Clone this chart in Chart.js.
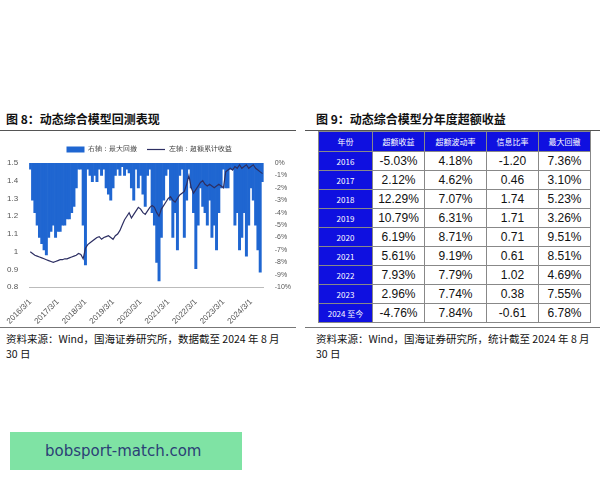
<!DOCTYPE html>
<html><head><meta charset="utf-8">
<script src="https://cdn.jsdelivr.net/npm/chart.js@4"></script>
<style>
body{margin:0;width:600px;height:480px;background:#fff;font-family:"Noto Sans CJK SC",sans-serif;position:relative;overflow:hidden}
.title{position:absolute;top:110px;font-size:12px;font-weight:bold;color:#111}
.rule{position:absolute;top:130px;height:1px;background:#555}
.src{position:absolute;top:331px;font-size:10.5px;line-height:15px;color:#111;width:290px}
.sep{position:absolute;top:127px;height:1px;background:#777}
#wrap{position:absolute;left:0;top:136px;width:296px;height:192px}
table{position:absolute;left:318px;top:131px;border-collapse:collapse;table-layout:fixed;font-family:"Liberation Sans",Arial,sans-serif;font-size:12px}
td{border:1px solid #888;height:18px;padding:0;text-align:center;color:#111;overflow:hidden;white-space:nowrap}
td.h{background:#0f10e0;color:#fff;font-family:"Noto Sans CJK SC";font-size:8px}
.box{position:absolute;left:10px;top:432px;width:232px;height:38px;background:#7fe3a4;font-family:"DejaVu Sans";font-size:15px;color:#2b3f76;line-height:38px;padding-left:35px;box-sizing:border-box}
</style></head><body>
<div class="title" style="left:6px">图 8：动态综合模型回测表现</div>
<div class="title" style="left:316px">图 9：动态综合模型分年度超额收益</div>
<div class="rule" style="left:0;width:296px"></div>
<div class="rule" style="left:305px;width:295px"></div>
<div id="wrap"><canvas id="c"></canvas></div>
<table id="t"></table>
<div class="src" style="left:6px">资料来源：Wind，国海证券研究所，数据截至 2024 年 8 月<br>30 日</div>
<div class="src" style="left:316px">资料来源：Wind，国海证券研究所，统计截至 2024 年 8 月<br>30 日</div>
<div class="sep" style="left:0;top:327px;width:296px"></div>
<div class="sep" style="left:305px;top:327px;width:295px"></div>
<div class="box">bobsport-match.com</div>
<script>
const excess = [
1.00,0.99,0.98,0.975,0.97,0.965,0.96,0.955,0.95,0.945,
0.94,0.945,0.95,0.955,0.955,0.96,0.96,0.965,0.97,0.975,0.98,0.99,
0.985,0.96,1.02,1.04,1.05,1.06,1.07,1.08,1.085,1.07,1.08,1.085,
1.09,1.08,1.07,1.09,1.10,1.12,1.15,1.18,1.20,1.22,1.19,1.21,
1.23,1.25,1.24,1.22,1.21,1.23,1.25,1.26,1.25,1.22,1.20,1.24,
1.26,1.28,1.30,1.31,1.29,1.28,1.30,1.32,1.33,1.34,1.38,1.43,
1.36,1.33,1.35,1.37,1.39,1.40,1.38,1.37,1.38,1.37,1.36,1.37,
1.38,1.37,1.36,1.45,1.46,1.47,1.46,1.48,1.47,1.49,1.47,1.48,
1.49,1.47,1.48,1.49,1.47,1.46,1.45,1.44];
const drawdown = [
-0.5,-3,-4,-5,-6,-6.5,-7,-7.4,-6,-5.5,
-5,-6,-5.5,-5.5,-5,-5,-4.5,-4.5,-4,-3.5,-2,-0.5,
-0.5,-5,-8.2,-0.5,-1,-1.5,-1,-1.5,-0.5,-1,-0.5,-2,
-2.5,-3,-2,-1,-0.5,-1,-0.3,-1,-0.5,-0.8,-2,-3,
-0.5,-2,-1,-2.5,-3.5,-1,-0.5,-4,-5,-8,-9.5,-6,
-3,-1,-0.5,-3,-6,-4,-7,-1,-0.5,-6,-3,-0.5,
-2,-4,-8.5,-5,-2,-3.5,-4,-5,-3,-6,-5,-7,
-4,-2,-0.5,-2,-2,-0.5,-0.5,-5,-4,-7,-6,-4,
-7.5,-5,-2,-3,-5,-7,-8.8,-1.5];
const labels = [];
for (let i = 0; i < excess.length; i++) {
  const m = (i + 2) % 12 + 1, y = 2016 + Math.floor((i + 2) / 12);
  labels.push(y + '/' + m + '/1');
}
const tableHead = ['年份','超额收益','超额波动率','信息比率','最大回撤'];
const years = ['2016','2017','2018','2019','2020','2021','2022','2023','2024 至今'];
const exRet = ['-5.03%','2.12%','12.29%','10.79%','6.19%','5.61%','7.93%','2.96%','-4.76%'];
const exVol = ['4.18%','4.62%','7.07%','6.31%','8.71%','9.19%','7.79%','7.74%','7.84%'];
const infoRatio = ['-1.20','0.46','1.74','1.71','0.71','0.61','1.02','0.38','-0.61'];
const maxDd = ['7.36%','3.10%','5.23%','3.26%','9.51%','8.51%','4.69%','7.55%','6.78%'];

const widths = [54,52,62,52,52];
let html = '<colgroup>' + widths.map(w => `<col style="width:${w}px">`).join('') + '</colgroup>';
html += '<tr>' + tableHead.map(h => `<td class="h" style="height:19px">${h}</td>`).join('') + '</tr>';
years.forEach((y, i) => {
  html += `<tr><td class="h">${y}</td><td>${exRet[i]}</td><td>${exVol[i]}</td><td>${infoRatio[i]}</td><td>${maxDd[i]}</td></tr>`;
});
const t = document.getElementById('t');
t.innerHTML = html;
t.style.width = '272px';

new Chart(document.getElementById('c'), {
  data: {
    labels: labels,
    datasets: [
      { type: 'line', label: '左轴：超额累计收益', data: excess, yAxisID: 'y', borderColor: '#2d2f63', borderWidth: 1.2, pointRadius: 0, pointStyle: 'line', tension: 0, order: 0 },
      { type: 'bar', label: '右轴：最大回撤', data: drawdown, yAxisID: 'y1', backgroundColor: '#1f66d1', pointStyle: 'rect', categoryPercentage: 1, barPercentage: 1, order: 1 }
    ]
  },
  options: {
    responsive: true, maintainAspectRatio: false, animation: false,
    layout: { padding: { left: 4, right: 2 } },
    plugins: {
      legend: { reverse: true, labels: { usePointStyle: true, pointStyleWidth: 18, boxHeight: 6, font: { size: 7 }, color: '#333' } },
      tooltip: { enabled: false }
    },
    scales: {
      x: { grid: { display: false }, border: { color: '#bbb' },
        ticks: { autoSkip: false, maxRotation: 45, minRotation: 45, font: { size: 8 }, color: '#555', padding: 2,
          callback: (v, i) => labels[i].split('/')[1] === '3' ? labels[i] : null } },
      y: { position: 'left', min: 0.8, max: 1.5, grid: { display: false }, border: { display: false },
        ticks: { stepSize: 0.1, font: { size: 8 }, color: '#555', callback: v => Math.abs(v - 1) < 1e-9 ? '1' : v.toFixed(1) } },
      y1: { position: 'right', min: -10, max: 0, grid: { display: false }, border: { display: false },
        ticks: { stepSize: 1, autoSkip: false, font: { size: 7 }, color: '#555', callback: v => v + '%' } }
    }
  }
});
</script>
</body></html>
